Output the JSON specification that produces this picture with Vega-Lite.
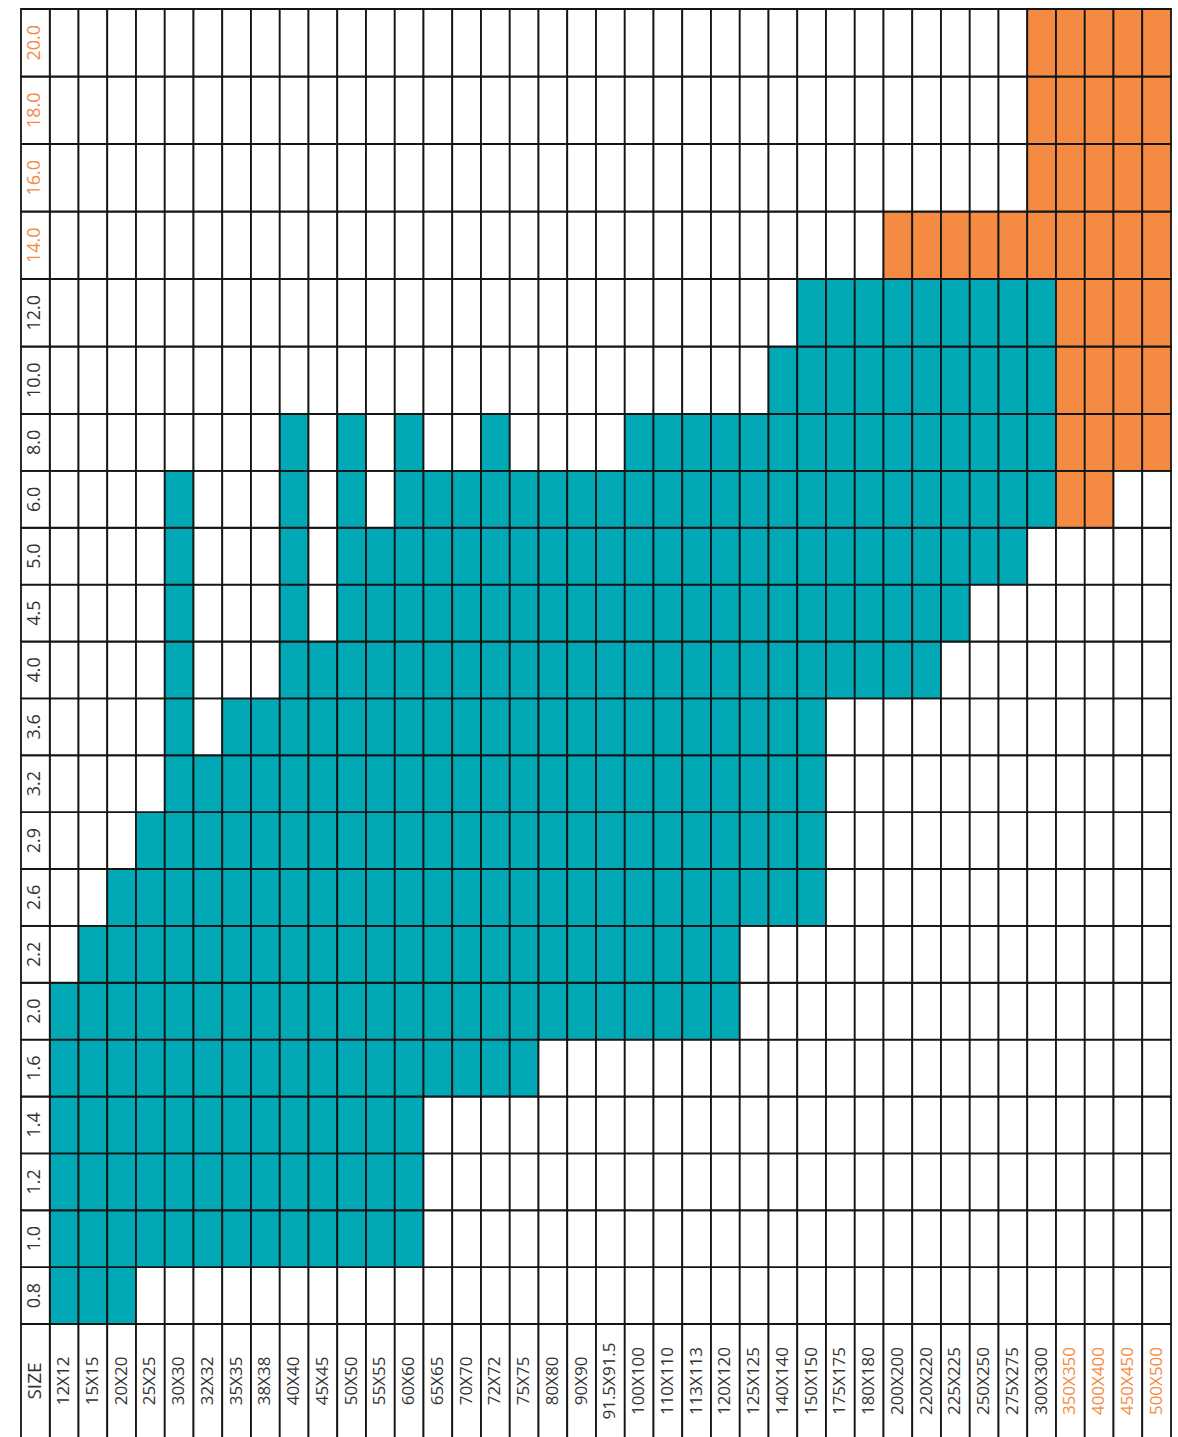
{
"$schema":"https://vega.github.io/schema/vega-lite/v6.json",
"padding":{"left":20,"top":8,"right":8,"bottom":0},
"bounds":"flush",
"spacing":0,
"config":{"view":{"stroke":null},"concat":{"spacing":0},"text":{"font":"Open Sans","fontSize":18}},
"datasets":{
"thick":[{"t":"0.8"},{"t":"1.0"},{"t":"1.2"},{"t":"1.4"},{"t":"1.6"},{"t":"2.0"},{"t":"2.2"},{"t":"2.6"},{"t":"2.9"},{"t":"3.2"},{"t":"3.6"},{"t":"4.0"},{"t":"4.5"},{"t":"5.0"},{"t":"6.0"},{"t":"8.0"},{"t":"10.0"},{"t":"12.0"},{"t":"14.0"},{"t":"16.0"},{"t":"18.0"},{"t":"20.0"}],
"sizes":[{"s":"12X12"},{"s":"15X15"},{"s":"20X20"},{"s":"25X25"},{"s":"30X30"},{"s":"32X32"},{"s":"35X35"},{"s":"38X38"},{"s":"40X40"},{"s":"45X45"},{"s":"50X50"},{"s":"55X55"},{"s":"60X60"},{"s":"65X65"},{"s":"70X70"},{"s":"72X72"},{"s":"75X75"},{"s":"80X80"},{"s":"90X90"},{"s":"91.5X91.5"},{"s":"100X100"},{"s":"110X110"},{"s":"113X113"},{"s":"120X120"},{"s":"125X125"},{"s":"140X140"},{"s":"150X150"},{"s":"175X175"},{"s":"180X180"},{"s":"200X200"},{"s":"220X220"},{"s":"225X225"},{"s":"250X250"},{"s":"275X275"},{"s":"300X300"},{"s":"350X350"},{"s":"400X400"},{"s":"450X450"},{"s":"500X500"}],
"header":[{"h":"SIZE"}],
"cells":[
{"s":"12X12","t":"0.8","c":"S"},{"s":"15X15","t":"0.8","c":"S"},{"s":"20X20","t":"0.8","c":"S"},{"s":"25X25","t":"0.8","c":"N"},{"s":"30X30","t":"0.8","c":"N"},{"s":"32X32","t":"0.8","c":"N"},{"s":"35X35","t":"0.8","c":"N"},{"s":"38X38","t":"0.8","c":"N"},{"s":"40X40","t":"0.8","c":"N"},{"s":"45X45","t":"0.8","c":"N"},{"s":"50X50","t":"0.8","c":"N"},{"s":"55X55","t":"0.8","c":"N"},{"s":"60X60","t":"0.8","c":"N"},{"s":"65X65","t":"0.8","c":"N"},{"s":"70X70","t":"0.8","c":"N"},{"s":"72X72","t":"0.8","c":"N"},{"s":"75X75","t":"0.8","c":"N"},{"s":"80X80","t":"0.8","c":"N"},{"s":"90X90","t":"0.8","c":"N"},{"s":"91.5X91.5","t":"0.8","c":"N"},{"s":"100X100","t":"0.8","c":"N"},{"s":"110X110","t":"0.8","c":"N"},{"s":"113X113","t":"0.8","c":"N"},{"s":"120X120","t":"0.8","c":"N"},{"s":"125X125","t":"0.8","c":"N"},{"s":"140X140","t":"0.8","c":"N"},{"s":"150X150","t":"0.8","c":"N"},{"s":"175X175","t":"0.8","c":"N"},{"s":"180X180","t":"0.8","c":"N"},{"s":"200X200","t":"0.8","c":"N"},{"s":"220X220","t":"0.8","c":"N"},{"s":"225X225","t":"0.8","c":"N"},{"s":"250X250","t":"0.8","c":"N"},{"s":"275X275","t":"0.8","c":"N"},{"s":"300X300","t":"0.8","c":"N"},{"s":"350X350","t":"0.8","c":"N"},{"s":"400X400","t":"0.8","c":"N"},{"s":"450X450","t":"0.8","c":"N"},{"s":"500X500","t":"0.8","c":"N"},
{"s":"12X12","t":"1.0","c":"S"},{"s":"15X15","t":"1.0","c":"S"},{"s":"20X20","t":"1.0","c":"S"},{"s":"25X25","t":"1.0","c":"S"},{"s":"30X30","t":"1.0","c":"S"},{"s":"32X32","t":"1.0","c":"S"},{"s":"35X35","t":"1.0","c":"S"},{"s":"38X38","t":"1.0","c":"S"},{"s":"40X40","t":"1.0","c":"S"},{"s":"45X45","t":"1.0","c":"S"},{"s":"50X50","t":"1.0","c":"S"},{"s":"55X55","t":"1.0","c":"S"},{"s":"60X60","t":"1.0","c":"S"},{"s":"65X65","t":"1.0","c":"N"},{"s":"70X70","t":"1.0","c":"N"},{"s":"72X72","t":"1.0","c":"N"},{"s":"75X75","t":"1.0","c":"N"},{"s":"80X80","t":"1.0","c":"N"},{"s":"90X90","t":"1.0","c":"N"},{"s":"91.5X91.5","t":"1.0","c":"N"},{"s":"100X100","t":"1.0","c":"N"},{"s":"110X110","t":"1.0","c":"N"},{"s":"113X113","t":"1.0","c":"N"},{"s":"120X120","t":"1.0","c":"N"},{"s":"125X125","t":"1.0","c":"N"},{"s":"140X140","t":"1.0","c":"N"},{"s":"150X150","t":"1.0","c":"N"},{"s":"175X175","t":"1.0","c":"N"},{"s":"180X180","t":"1.0","c":"N"},{"s":"200X200","t":"1.0","c":"N"},{"s":"220X220","t":"1.0","c":"N"},{"s":"225X225","t":"1.0","c":"N"},{"s":"250X250","t":"1.0","c":"N"},{"s":"275X275","t":"1.0","c":"N"},{"s":"300X300","t":"1.0","c":"N"},{"s":"350X350","t":"1.0","c":"N"},{"s":"400X400","t":"1.0","c":"N"},{"s":"450X450","t":"1.0","c":"N"},{"s":"500X500","t":"1.0","c":"N"},
{"s":"12X12","t":"1.2","c":"S"},{"s":"15X15","t":"1.2","c":"S"},{"s":"20X20","t":"1.2","c":"S"},{"s":"25X25","t":"1.2","c":"S"},{"s":"30X30","t":"1.2","c":"S"},{"s":"32X32","t":"1.2","c":"S"},{"s":"35X35","t":"1.2","c":"S"},{"s":"38X38","t":"1.2","c":"S"},{"s":"40X40","t":"1.2","c":"S"},{"s":"45X45","t":"1.2","c":"S"},{"s":"50X50","t":"1.2","c":"S"},{"s":"55X55","t":"1.2","c":"S"},{"s":"60X60","t":"1.2","c":"S"},{"s":"65X65","t":"1.2","c":"N"},{"s":"70X70","t":"1.2","c":"N"},{"s":"72X72","t":"1.2","c":"N"},{"s":"75X75","t":"1.2","c":"N"},{"s":"80X80","t":"1.2","c":"N"},{"s":"90X90","t":"1.2","c":"N"},{"s":"91.5X91.5","t":"1.2","c":"N"},{"s":"100X100","t":"1.2","c":"N"},{"s":"110X110","t":"1.2","c":"N"},{"s":"113X113","t":"1.2","c":"N"},{"s":"120X120","t":"1.2","c":"N"},{"s":"125X125","t":"1.2","c":"N"},{"s":"140X140","t":"1.2","c":"N"},{"s":"150X150","t":"1.2","c":"N"},{"s":"175X175","t":"1.2","c":"N"},{"s":"180X180","t":"1.2","c":"N"},{"s":"200X200","t":"1.2","c":"N"},{"s":"220X220","t":"1.2","c":"N"},{"s":"225X225","t":"1.2","c":"N"},{"s":"250X250","t":"1.2","c":"N"},{"s":"275X275","t":"1.2","c":"N"},{"s":"300X300","t":"1.2","c":"N"},{"s":"350X350","t":"1.2","c":"N"},{"s":"400X400","t":"1.2","c":"N"},{"s":"450X450","t":"1.2","c":"N"},{"s":"500X500","t":"1.2","c":"N"},
{"s":"12X12","t":"1.4","c":"S"},{"s":"15X15","t":"1.4","c":"S"},{"s":"20X20","t":"1.4","c":"S"},{"s":"25X25","t":"1.4","c":"S"},{"s":"30X30","t":"1.4","c":"S"},{"s":"32X32","t":"1.4","c":"S"},{"s":"35X35","t":"1.4","c":"S"},{"s":"38X38","t":"1.4","c":"S"},{"s":"40X40","t":"1.4","c":"S"},{"s":"45X45","t":"1.4","c":"S"},{"s":"50X50","t":"1.4","c":"S"},{"s":"55X55","t":"1.4","c":"S"},{"s":"60X60","t":"1.4","c":"S"},{"s":"65X65","t":"1.4","c":"N"},{"s":"70X70","t":"1.4","c":"N"},{"s":"72X72","t":"1.4","c":"N"},{"s":"75X75","t":"1.4","c":"N"},{"s":"80X80","t":"1.4","c":"N"},{"s":"90X90","t":"1.4","c":"N"},{"s":"91.5X91.5","t":"1.4","c":"N"},{"s":"100X100","t":"1.4","c":"N"},{"s":"110X110","t":"1.4","c":"N"},{"s":"113X113","t":"1.4","c":"N"},{"s":"120X120","t":"1.4","c":"N"},{"s":"125X125","t":"1.4","c":"N"},{"s":"140X140","t":"1.4","c":"N"},{"s":"150X150","t":"1.4","c":"N"},{"s":"175X175","t":"1.4","c":"N"},{"s":"180X180","t":"1.4","c":"N"},{"s":"200X200","t":"1.4","c":"N"},{"s":"220X220","t":"1.4","c":"N"},{"s":"225X225","t":"1.4","c":"N"},{"s":"250X250","t":"1.4","c":"N"},{"s":"275X275","t":"1.4","c":"N"},{"s":"300X300","t":"1.4","c":"N"},{"s":"350X350","t":"1.4","c":"N"},{"s":"400X400","t":"1.4","c":"N"},{"s":"450X450","t":"1.4","c":"N"},{"s":"500X500","t":"1.4","c":"N"},
{"s":"12X12","t":"1.6","c":"S"},{"s":"15X15","t":"1.6","c":"S"},{"s":"20X20","t":"1.6","c":"S"},{"s":"25X25","t":"1.6","c":"S"},{"s":"30X30","t":"1.6","c":"S"},{"s":"32X32","t":"1.6","c":"S"},{"s":"35X35","t":"1.6","c":"S"},{"s":"38X38","t":"1.6","c":"S"},{"s":"40X40","t":"1.6","c":"S"},{"s":"45X45","t":"1.6","c":"S"},{"s":"50X50","t":"1.6","c":"S"},{"s":"55X55","t":"1.6","c":"S"},{"s":"60X60","t":"1.6","c":"S"},{"s":"65X65","t":"1.6","c":"S"},{"s":"70X70","t":"1.6","c":"S"},{"s":"72X72","t":"1.6","c":"S"},{"s":"75X75","t":"1.6","c":"S"},{"s":"80X80","t":"1.6","c":"N"},{"s":"90X90","t":"1.6","c":"N"},{"s":"91.5X91.5","t":"1.6","c":"N"},{"s":"100X100","t":"1.6","c":"N"},{"s":"110X110","t":"1.6","c":"N"},{"s":"113X113","t":"1.6","c":"N"},{"s":"120X120","t":"1.6","c":"N"},{"s":"125X125","t":"1.6","c":"N"},{"s":"140X140","t":"1.6","c":"N"},{"s":"150X150","t":"1.6","c":"N"},{"s":"175X175","t":"1.6","c":"N"},{"s":"180X180","t":"1.6","c":"N"},{"s":"200X200","t":"1.6","c":"N"},{"s":"220X220","t":"1.6","c":"N"},{"s":"225X225","t":"1.6","c":"N"},{"s":"250X250","t":"1.6","c":"N"},{"s":"275X275","t":"1.6","c":"N"},{"s":"300X300","t":"1.6","c":"N"},{"s":"350X350","t":"1.6","c":"N"},{"s":"400X400","t":"1.6","c":"N"},{"s":"450X450","t":"1.6","c":"N"},{"s":"500X500","t":"1.6","c":"N"},
{"s":"12X12","t":"2.0","c":"S"},{"s":"15X15","t":"2.0","c":"S"},{"s":"20X20","t":"2.0","c":"S"},{"s":"25X25","t":"2.0","c":"S"},{"s":"30X30","t":"2.0","c":"S"},{"s":"32X32","t":"2.0","c":"S"},{"s":"35X35","t":"2.0","c":"S"},{"s":"38X38","t":"2.0","c":"S"},{"s":"40X40","t":"2.0","c":"S"},{"s":"45X45","t":"2.0","c":"S"},{"s":"50X50","t":"2.0","c":"S"},{"s":"55X55","t":"2.0","c":"S"},{"s":"60X60","t":"2.0","c":"S"},{"s":"65X65","t":"2.0","c":"S"},{"s":"70X70","t":"2.0","c":"S"},{"s":"72X72","t":"2.0","c":"S"},{"s":"75X75","t":"2.0","c":"S"},{"s":"80X80","t":"2.0","c":"S"},{"s":"90X90","t":"2.0","c":"S"},{"s":"91.5X91.5","t":"2.0","c":"S"},{"s":"100X100","t":"2.0","c":"S"},{"s":"110X110","t":"2.0","c":"S"},{"s":"113X113","t":"2.0","c":"S"},{"s":"120X120","t":"2.0","c":"S"},{"s":"125X125","t":"2.0","c":"N"},{"s":"140X140","t":"2.0","c":"N"},{"s":"150X150","t":"2.0","c":"N"},{"s":"175X175","t":"2.0","c":"N"},{"s":"180X180","t":"2.0","c":"N"},{"s":"200X200","t":"2.0","c":"N"},{"s":"220X220","t":"2.0","c":"N"},{"s":"225X225","t":"2.0","c":"N"},{"s":"250X250","t":"2.0","c":"N"},{"s":"275X275","t":"2.0","c":"N"},{"s":"300X300","t":"2.0","c":"N"},{"s":"350X350","t":"2.0","c":"N"},{"s":"400X400","t":"2.0","c":"N"},{"s":"450X450","t":"2.0","c":"N"},{"s":"500X500","t":"2.0","c":"N"},
{"s":"12X12","t":"2.2","c":"N"},{"s":"15X15","t":"2.2","c":"S"},{"s":"20X20","t":"2.2","c":"S"},{"s":"25X25","t":"2.2","c":"S"},{"s":"30X30","t":"2.2","c":"S"},{"s":"32X32","t":"2.2","c":"S"},{"s":"35X35","t":"2.2","c":"S"},{"s":"38X38","t":"2.2","c":"S"},{"s":"40X40","t":"2.2","c":"S"},{"s":"45X45","t":"2.2","c":"S"},{"s":"50X50","t":"2.2","c":"S"},{"s":"55X55","t":"2.2","c":"S"},{"s":"60X60","t":"2.2","c":"S"},{"s":"65X65","t":"2.2","c":"S"},{"s":"70X70","t":"2.2","c":"S"},{"s":"72X72","t":"2.2","c":"S"},{"s":"75X75","t":"2.2","c":"S"},{"s":"80X80","t":"2.2","c":"S"},{"s":"90X90","t":"2.2","c":"S"},{"s":"91.5X91.5","t":"2.2","c":"S"},{"s":"100X100","t":"2.2","c":"S"},{"s":"110X110","t":"2.2","c":"S"},{"s":"113X113","t":"2.2","c":"S"},{"s":"120X120","t":"2.2","c":"S"},{"s":"125X125","t":"2.2","c":"N"},{"s":"140X140","t":"2.2","c":"N"},{"s":"150X150","t":"2.2","c":"N"},{"s":"175X175","t":"2.2","c":"N"},{"s":"180X180","t":"2.2","c":"N"},{"s":"200X200","t":"2.2","c":"N"},{"s":"220X220","t":"2.2","c":"N"},{"s":"225X225","t":"2.2","c":"N"},{"s":"250X250","t":"2.2","c":"N"},{"s":"275X275","t":"2.2","c":"N"},{"s":"300X300","t":"2.2","c":"N"},{"s":"350X350","t":"2.2","c":"N"},{"s":"400X400","t":"2.2","c":"N"},{"s":"450X450","t":"2.2","c":"N"},{"s":"500X500","t":"2.2","c":"N"},
{"s":"12X12","t":"2.6","c":"N"},{"s":"15X15","t":"2.6","c":"N"},{"s":"20X20","t":"2.6","c":"S"},{"s":"25X25","t":"2.6","c":"S"},{"s":"30X30","t":"2.6","c":"S"},{"s":"32X32","t":"2.6","c":"S"},{"s":"35X35","t":"2.6","c":"S"},{"s":"38X38","t":"2.6","c":"S"},{"s":"40X40","t":"2.6","c":"S"},{"s":"45X45","t":"2.6","c":"S"},{"s":"50X50","t":"2.6","c":"S"},{"s":"55X55","t":"2.6","c":"S"},{"s":"60X60","t":"2.6","c":"S"},{"s":"65X65","t":"2.6","c":"S"},{"s":"70X70","t":"2.6","c":"S"},{"s":"72X72","t":"2.6","c":"S"},{"s":"75X75","t":"2.6","c":"S"},{"s":"80X80","t":"2.6","c":"S"},{"s":"90X90","t":"2.6","c":"S"},{"s":"91.5X91.5","t":"2.6","c":"S"},{"s":"100X100","t":"2.6","c":"S"},{"s":"110X110","t":"2.6","c":"S"},{"s":"113X113","t":"2.6","c":"S"},{"s":"120X120","t":"2.6","c":"S"},{"s":"125X125","t":"2.6","c":"S"},{"s":"140X140","t":"2.6","c":"S"},{"s":"150X150","t":"2.6","c":"S"},{"s":"175X175","t":"2.6","c":"N"},{"s":"180X180","t":"2.6","c":"N"},{"s":"200X200","t":"2.6","c":"N"},{"s":"220X220","t":"2.6","c":"N"},{"s":"225X225","t":"2.6","c":"N"},{"s":"250X250","t":"2.6","c":"N"},{"s":"275X275","t":"2.6","c":"N"},{"s":"300X300","t":"2.6","c":"N"},{"s":"350X350","t":"2.6","c":"N"},{"s":"400X400","t":"2.6","c":"N"},{"s":"450X450","t":"2.6","c":"N"},{"s":"500X500","t":"2.6","c":"N"},
{"s":"12X12","t":"2.9","c":"N"},{"s":"15X15","t":"2.9","c":"N"},{"s":"20X20","t":"2.9","c":"N"},{"s":"25X25","t":"2.9","c":"S"},{"s":"30X30","t":"2.9","c":"S"},{"s":"32X32","t":"2.9","c":"S"},{"s":"35X35","t":"2.9","c":"S"},{"s":"38X38","t":"2.9","c":"S"},{"s":"40X40","t":"2.9","c":"S"},{"s":"45X45","t":"2.9","c":"S"},{"s":"50X50","t":"2.9","c":"S"},{"s":"55X55","t":"2.9","c":"S"},{"s":"60X60","t":"2.9","c":"S"},{"s":"65X65","t":"2.9","c":"S"},{"s":"70X70","t":"2.9","c":"S"},{"s":"72X72","t":"2.9","c":"S"},{"s":"75X75","t":"2.9","c":"S"},{"s":"80X80","t":"2.9","c":"S"},{"s":"90X90","t":"2.9","c":"S"},{"s":"91.5X91.5","t":"2.9","c":"S"},{"s":"100X100","t":"2.9","c":"S"},{"s":"110X110","t":"2.9","c":"S"},{"s":"113X113","t":"2.9","c":"S"},{"s":"120X120","t":"2.9","c":"S"},{"s":"125X125","t":"2.9","c":"S"},{"s":"140X140","t":"2.9","c":"S"},{"s":"150X150","t":"2.9","c":"S"},{"s":"175X175","t":"2.9","c":"N"},{"s":"180X180","t":"2.9","c":"N"},{"s":"200X200","t":"2.9","c":"N"},{"s":"220X220","t":"2.9","c":"N"},{"s":"225X225","t":"2.9","c":"N"},{"s":"250X250","t":"2.9","c":"N"},{"s":"275X275","t":"2.9","c":"N"},{"s":"300X300","t":"2.9","c":"N"},{"s":"350X350","t":"2.9","c":"N"},{"s":"400X400","t":"2.9","c":"N"},{"s":"450X450","t":"2.9","c":"N"},{"s":"500X500","t":"2.9","c":"N"},
{"s":"12X12","t":"3.2","c":"N"},{"s":"15X15","t":"3.2","c":"N"},{"s":"20X20","t":"3.2","c":"N"},{"s":"25X25","t":"3.2","c":"N"},{"s":"30X30","t":"3.2","c":"S"},{"s":"32X32","t":"3.2","c":"S"},{"s":"35X35","t":"3.2","c":"S"},{"s":"38X38","t":"3.2","c":"S"},{"s":"40X40","t":"3.2","c":"S"},{"s":"45X45","t":"3.2","c":"S"},{"s":"50X50","t":"3.2","c":"S"},{"s":"55X55","t":"3.2","c":"S"},{"s":"60X60","t":"3.2","c":"S"},{"s":"65X65","t":"3.2","c":"S"},{"s":"70X70","t":"3.2","c":"S"},{"s":"72X72","t":"3.2","c":"S"},{"s":"75X75","t":"3.2","c":"S"},{"s":"80X80","t":"3.2","c":"S"},{"s":"90X90","t":"3.2","c":"S"},{"s":"91.5X91.5","t":"3.2","c":"S"},{"s":"100X100","t":"3.2","c":"S"},{"s":"110X110","t":"3.2","c":"S"},{"s":"113X113","t":"3.2","c":"S"},{"s":"120X120","t":"3.2","c":"S"},{"s":"125X125","t":"3.2","c":"S"},{"s":"140X140","t":"3.2","c":"S"},{"s":"150X150","t":"3.2","c":"S"},{"s":"175X175","t":"3.2","c":"N"},{"s":"180X180","t":"3.2","c":"N"},{"s":"200X200","t":"3.2","c":"N"},{"s":"220X220","t":"3.2","c":"N"},{"s":"225X225","t":"3.2","c":"N"},{"s":"250X250","t":"3.2","c":"N"},{"s":"275X275","t":"3.2","c":"N"},{"s":"300X300","t":"3.2","c":"N"},{"s":"350X350","t":"3.2","c":"N"},{"s":"400X400","t":"3.2","c":"N"},{"s":"450X450","t":"3.2","c":"N"},{"s":"500X500","t":"3.2","c":"N"},
{"s":"12X12","t":"3.6","c":"N"},{"s":"15X15","t":"3.6","c":"N"},{"s":"20X20","t":"3.6","c":"N"},{"s":"25X25","t":"3.6","c":"N"},{"s":"30X30","t":"3.6","c":"S"},{"s":"32X32","t":"3.6","c":"N"},{"s":"35X35","t":"3.6","c":"S"},{"s":"38X38","t":"3.6","c":"S"},{"s":"40X40","t":"3.6","c":"S"},{"s":"45X45","t":"3.6","c":"S"},{"s":"50X50","t":"3.6","c":"S"},{"s":"55X55","t":"3.6","c":"S"},{"s":"60X60","t":"3.6","c":"S"},{"s":"65X65","t":"3.6","c":"S"},{"s":"70X70","t":"3.6","c":"S"},{"s":"72X72","t":"3.6","c":"S"},{"s":"75X75","t":"3.6","c":"S"},{"s":"80X80","t":"3.6","c":"S"},{"s":"90X90","t":"3.6","c":"S"},{"s":"91.5X91.5","t":"3.6","c":"S"},{"s":"100X100","t":"3.6","c":"S"},{"s":"110X110","t":"3.6","c":"S"},{"s":"113X113","t":"3.6","c":"S"},{"s":"120X120","t":"3.6","c":"S"},{"s":"125X125","t":"3.6","c":"S"},{"s":"140X140","t":"3.6","c":"S"},{"s":"150X150","t":"3.6","c":"S"},{"s":"175X175","t":"3.6","c":"N"},{"s":"180X180","t":"3.6","c":"N"},{"s":"200X200","t":"3.6","c":"N"},{"s":"220X220","t":"3.6","c":"N"},{"s":"225X225","t":"3.6","c":"N"},{"s":"250X250","t":"3.6","c":"N"},{"s":"275X275","t":"3.6","c":"N"},{"s":"300X300","t":"3.6","c":"N"},{"s":"350X350","t":"3.6","c":"N"},{"s":"400X400","t":"3.6","c":"N"},{"s":"450X450","t":"3.6","c":"N"},{"s":"500X500","t":"3.6","c":"N"},
{"s":"12X12","t":"4.0","c":"N"},{"s":"15X15","t":"4.0","c":"N"},{"s":"20X20","t":"4.0","c":"N"},{"s":"25X25","t":"4.0","c":"N"},{"s":"30X30","t":"4.0","c":"S"},{"s":"32X32","t":"4.0","c":"N"},{"s":"35X35","t":"4.0","c":"N"},{"s":"38X38","t":"4.0","c":"N"},{"s":"40X40","t":"4.0","c":"S"},{"s":"45X45","t":"4.0","c":"S"},{"s":"50X50","t":"4.0","c":"S"},{"s":"55X55","t":"4.0","c":"S"},{"s":"60X60","t":"4.0","c":"S"},{"s":"65X65","t":"4.0","c":"S"},{"s":"70X70","t":"4.0","c":"S"},{"s":"72X72","t":"4.0","c":"S"},{"s":"75X75","t":"4.0","c":"S"},{"s":"80X80","t":"4.0","c":"S"},{"s":"90X90","t":"4.0","c":"S"},{"s":"91.5X91.5","t":"4.0","c":"S"},{"s":"100X100","t":"4.0","c":"S"},{"s":"110X110","t":"4.0","c":"S"},{"s":"113X113","t":"4.0","c":"S"},{"s":"120X120","t":"4.0","c":"S"},{"s":"125X125","t":"4.0","c":"S"},{"s":"140X140","t":"4.0","c":"S"},{"s":"150X150","t":"4.0","c":"S"},{"s":"175X175","t":"4.0","c":"S"},{"s":"180X180","t":"4.0","c":"S"},{"s":"200X200","t":"4.0","c":"S"},{"s":"220X220","t":"4.0","c":"S"},{"s":"225X225","t":"4.0","c":"N"},{"s":"250X250","t":"4.0","c":"N"},{"s":"275X275","t":"4.0","c":"N"},{"s":"300X300","t":"4.0","c":"N"},{"s":"350X350","t":"4.0","c":"N"},{"s":"400X400","t":"4.0","c":"N"},{"s":"450X450","t":"4.0","c":"N"},{"s":"500X500","t":"4.0","c":"N"},
{"s":"12X12","t":"4.5","c":"N"},{"s":"15X15","t":"4.5","c":"N"},{"s":"20X20","t":"4.5","c":"N"},{"s":"25X25","t":"4.5","c":"N"},{"s":"30X30","t":"4.5","c":"S"},{"s":"32X32","t":"4.5","c":"N"},{"s":"35X35","t":"4.5","c":"N"},{"s":"38X38","t":"4.5","c":"N"},{"s":"40X40","t":"4.5","c":"S"},{"s":"45X45","t":"4.5","c":"N"},{"s":"50X50","t":"4.5","c":"S"},{"s":"55X55","t":"4.5","c":"S"},{"s":"60X60","t":"4.5","c":"S"},{"s":"65X65","t":"4.5","c":"S"},{"s":"70X70","t":"4.5","c":"S"},{"s":"72X72","t":"4.5","c":"S"},{"s":"75X75","t":"4.5","c":"S"},{"s":"80X80","t":"4.5","c":"S"},{"s":"90X90","t":"4.5","c":"S"},{"s":"91.5X91.5","t":"4.5","c":"S"},{"s":"100X100","t":"4.5","c":"S"},{"s":"110X110","t":"4.5","c":"S"},{"s":"113X113","t":"4.5","c":"S"},{"s":"120X120","t":"4.5","c":"S"},{"s":"125X125","t":"4.5","c":"S"},{"s":"140X140","t":"4.5","c":"S"},{"s":"150X150","t":"4.5","c":"S"},{"s":"175X175","t":"4.5","c":"S"},{"s":"180X180","t":"4.5","c":"S"},{"s":"200X200","t":"4.5","c":"S"},{"s":"220X220","t":"4.5","c":"S"},{"s":"225X225","t":"4.5","c":"S"},{"s":"250X250","t":"4.5","c":"N"},{"s":"275X275","t":"4.5","c":"N"},{"s":"300X300","t":"4.5","c":"N"},{"s":"350X350","t":"4.5","c":"N"},{"s":"400X400","t":"4.5","c":"N"},{"s":"450X450","t":"4.5","c":"N"},{"s":"500X500","t":"4.5","c":"N"},
{"s":"12X12","t":"5.0","c":"N"},{"s":"15X15","t":"5.0","c":"N"},{"s":"20X20","t":"5.0","c":"N"},{"s":"25X25","t":"5.0","c":"N"},{"s":"30X30","t":"5.0","c":"S"},{"s":"32X32","t":"5.0","c":"N"},{"s":"35X35","t":"5.0","c":"N"},{"s":"38X38","t":"5.0","c":"N"},{"s":"40X40","t":"5.0","c":"S"},{"s":"45X45","t":"5.0","c":"N"},{"s":"50X50","t":"5.0","c":"S"},{"s":"55X55","t":"5.0","c":"S"},{"s":"60X60","t":"5.0","c":"S"},{"s":"65X65","t":"5.0","c":"S"},{"s":"70X70","t":"5.0","c":"S"},{"s":"72X72","t":"5.0","c":"S"},{"s":"75X75","t":"5.0","c":"S"},{"s":"80X80","t":"5.0","c":"S"},{"s":"90X90","t":"5.0","c":"S"},{"s":"91.5X91.5","t":"5.0","c":"S"},{"s":"100X100","t":"5.0","c":"S"},{"s":"110X110","t":"5.0","c":"S"},{"s":"113X113","t":"5.0","c":"S"},{"s":"120X120","t":"5.0","c":"S"},{"s":"125X125","t":"5.0","c":"S"},{"s":"140X140","t":"5.0","c":"S"},{"s":"150X150","t":"5.0","c":"S"},{"s":"175X175","t":"5.0","c":"S"},{"s":"180X180","t":"5.0","c":"S"},{"s":"200X200","t":"5.0","c":"S"},{"s":"220X220","t":"5.0","c":"S"},{"s":"225X225","t":"5.0","c":"S"},{"s":"250X250","t":"5.0","c":"S"},{"s":"275X275","t":"5.0","c":"S"},{"s":"300X300","t":"5.0","c":"N"},{"s":"350X350","t":"5.0","c":"N"},{"s":"400X400","t":"5.0","c":"N"},{"s":"450X450","t":"5.0","c":"N"},{"s":"500X500","t":"5.0","c":"N"},
{"s":"12X12","t":"6.0","c":"N"},{"s":"15X15","t":"6.0","c":"N"},{"s":"20X20","t":"6.0","c":"N"},{"s":"25X25","t":"6.0","c":"N"},{"s":"30X30","t":"6.0","c":"S"},{"s":"32X32","t":"6.0","c":"N"},{"s":"35X35","t":"6.0","c":"N"},{"s":"38X38","t":"6.0","c":"N"},{"s":"40X40","t":"6.0","c":"S"},{"s":"45X45","t":"6.0","c":"N"},{"s":"50X50","t":"6.0","c":"S"},{"s":"55X55","t":"6.0","c":"N"},{"s":"60X60","t":"6.0","c":"S"},{"s":"65X65","t":"6.0","c":"S"},{"s":"70X70","t":"6.0","c":"S"},{"s":"72X72","t":"6.0","c":"S"},{"s":"75X75","t":"6.0","c":"S"},{"s":"80X80","t":"6.0","c":"S"},{"s":"90X90","t":"6.0","c":"S"},{"s":"91.5X91.5","t":"6.0","c":"S"},{"s":"100X100","t":"6.0","c":"S"},{"s":"110X110","t":"6.0","c":"S"},{"s":"113X113","t":"6.0","c":"S"},{"s":"120X120","t":"6.0","c":"S"},{"s":"125X125","t":"6.0","c":"S"},{"s":"140X140","t":"6.0","c":"S"},{"s":"150X150","t":"6.0","c":"S"},{"s":"175X175","t":"6.0","c":"S"},{"s":"180X180","t":"6.0","c":"S"},{"s":"200X200","t":"6.0","c":"S"},{"s":"220X220","t":"6.0","c":"S"},{"s":"225X225","t":"6.0","c":"S"},{"s":"250X250","t":"6.0","c":"S"},{"s":"275X275","t":"6.0","c":"S"},{"s":"300X300","t":"6.0","c":"S"},{"s":"350X350","t":"6.0","c":"L"},{"s":"400X400","t":"6.0","c":"L"},{"s":"450X450","t":"6.0","c":"N"},{"s":"500X500","t":"6.0","c":"N"},
{"s":"12X12","t":"8.0","c":"N"},{"s":"15X15","t":"8.0","c":"N"},{"s":"20X20","t":"8.0","c":"N"},{"s":"25X25","t":"8.0","c":"N"},{"s":"30X30","t":"8.0","c":"N"},{"s":"32X32","t":"8.0","c":"N"},{"s":"35X35","t":"8.0","c":"N"},{"s":"38X38","t":"8.0","c":"N"},{"s":"40X40","t":"8.0","c":"S"},{"s":"45X45","t":"8.0","c":"N"},{"s":"50X50","t":"8.0","c":"S"},{"s":"55X55","t":"8.0","c":"N"},{"s":"60X60","t":"8.0","c":"S"},{"s":"65X65","t":"8.0","c":"N"},{"s":"70X70","t":"8.0","c":"N"},{"s":"72X72","t":"8.0","c":"S"},{"s":"75X75","t":"8.0","c":"N"},{"s":"80X80","t":"8.0","c":"N"},{"s":"90X90","t":"8.0","c":"N"},{"s":"91.5X91.5","t":"8.0","c":"N"},{"s":"100X100","t":"8.0","c":"S"},{"s":"110X110","t":"8.0","c":"S"},{"s":"113X113","t":"8.0","c":"S"},{"s":"120X120","t":"8.0","c":"S"},{"s":"125X125","t":"8.0","c":"S"},{"s":"140X140","t":"8.0","c":"S"},{"s":"150X150","t":"8.0","c":"S"},{"s":"175X175","t":"8.0","c":"S"},{"s":"180X180","t":"8.0","c":"S"},{"s":"200X200","t":"8.0","c":"S"},{"s":"220X220","t":"8.0","c":"S"},{"s":"225X225","t":"8.0","c":"S"},{"s":"250X250","t":"8.0","c":"S"},{"s":"275X275","t":"8.0","c":"S"},{"s":"300X300","t":"8.0","c":"S"},{"s":"350X350","t":"8.0","c":"L"},{"s":"400X400","t":"8.0","c":"L"},{"s":"450X450","t":"8.0","c":"L"},{"s":"500X500","t":"8.0","c":"L"},
{"s":"12X12","t":"10.0","c":"N"},{"s":"15X15","t":"10.0","c":"N"},{"s":"20X20","t":"10.0","c":"N"},{"s":"25X25","t":"10.0","c":"N"},{"s":"30X30","t":"10.0","c":"N"},{"s":"32X32","t":"10.0","c":"N"},{"s":"35X35","t":"10.0","c":"N"},{"s":"38X38","t":"10.0","c":"N"},{"s":"40X40","t":"10.0","c":"N"},{"s":"45X45","t":"10.0","c":"N"},{"s":"50X50","t":"10.0","c":"N"},{"s":"55X55","t":"10.0","c":"N"},{"s":"60X60","t":"10.0","c":"N"},{"s":"65X65","t":"10.0","c":"N"},{"s":"70X70","t":"10.0","c":"N"},{"s":"72X72","t":"10.0","c":"N"},{"s":"75X75","t":"10.0","c":"N"},{"s":"80X80","t":"10.0","c":"N"},{"s":"90X90","t":"10.0","c":"N"},{"s":"91.5X91.5","t":"10.0","c":"N"},{"s":"100X100","t":"10.0","c":"N"},{"s":"110X110","t":"10.0","c":"N"},{"s":"113X113","t":"10.0","c":"N"},{"s":"120X120","t":"10.0","c":"N"},{"s":"125X125","t":"10.0","c":"N"},{"s":"140X140","t":"10.0","c":"S"},{"s":"150X150","t":"10.0","c":"S"},{"s":"175X175","t":"10.0","c":"S"},{"s":"180X180","t":"10.0","c":"S"},{"s":"200X200","t":"10.0","c":"S"},{"s":"220X220","t":"10.0","c":"S"},{"s":"225X225","t":"10.0","c":"S"},{"s":"250X250","t":"10.0","c":"S"},{"s":"275X275","t":"10.0","c":"S"},{"s":"300X300","t":"10.0","c":"S"},{"s":"350X350","t":"10.0","c":"L"},{"s":"400X400","t":"10.0","c":"L"},{"s":"450X450","t":"10.0","c":"L"},{"s":"500X500","t":"10.0","c":"L"},
{"s":"12X12","t":"12.0","c":"N"},{"s":"15X15","t":"12.0","c":"N"},{"s":"20X20","t":"12.0","c":"N"},{"s":"25X25","t":"12.0","c":"N"},{"s":"30X30","t":"12.0","c":"N"},{"s":"32X32","t":"12.0","c":"N"},{"s":"35X35","t":"12.0","c":"N"},{"s":"38X38","t":"12.0","c":"N"},{"s":"40X40","t":"12.0","c":"N"},{"s":"45X45","t":"12.0","c":"N"},{"s":"50X50","t":"12.0","c":"N"},{"s":"55X55","t":"12.0","c":"N"},{"s":"60X60","t":"12.0","c":"N"},{"s":"65X65","t":"12.0","c":"N"},{"s":"70X70","t":"12.0","c":"N"},{"s":"72X72","t":"12.0","c":"N"},{"s":"75X75","t":"12.0","c":"N"},{"s":"80X80","t":"12.0","c":"N"},{"s":"90X90","t":"12.0","c":"N"},{"s":"91.5X91.5","t":"12.0","c":"N"},{"s":"100X100","t":"12.0","c":"N"},{"s":"110X110","t":"12.0","c":"N"},{"s":"113X113","t":"12.0","c":"N"},{"s":"120X120","t":"12.0","c":"N"},{"s":"125X125","t":"12.0","c":"N"},{"s":"140X140","t":"12.0","c":"N"},{"s":"150X150","t":"12.0","c":"S"},{"s":"175X175","t":"12.0","c":"S"},{"s":"180X180","t":"12.0","c":"S"},{"s":"200X200","t":"12.0","c":"S"},{"s":"220X220","t":"12.0","c":"S"},{"s":"225X225","t":"12.0","c":"S"},{"s":"250X250","t":"12.0","c":"S"},{"s":"275X275","t":"12.0","c":"S"},{"s":"300X300","t":"12.0","c":"S"},{"s":"350X350","t":"12.0","c":"L"},{"s":"400X400","t":"12.0","c":"L"},{"s":"450X450","t":"12.0","c":"L"},{"s":"500X500","t":"12.0","c":"L"},
{"s":"12X12","t":"14.0","c":"N"},{"s":"15X15","t":"14.0","c":"N"},{"s":"20X20","t":"14.0","c":"N"},{"s":"25X25","t":"14.0","c":"N"},{"s":"30X30","t":"14.0","c":"N"},{"s":"32X32","t":"14.0","c":"N"},{"s":"35X35","t":"14.0","c":"N"},{"s":"38X38","t":"14.0","c":"N"},{"s":"40X40","t":"14.0","c":"N"},{"s":"45X45","t":"14.0","c":"N"},{"s":"50X50","t":"14.0","c":"N"},{"s":"55X55","t":"14.0","c":"N"},{"s":"60X60","t":"14.0","c":"N"},{"s":"65X65","t":"14.0","c":"N"},{"s":"70X70","t":"14.0","c":"N"},{"s":"72X72","t":"14.0","c":"N"},{"s":"75X75","t":"14.0","c":"N"},{"s":"80X80","t":"14.0","c":"N"},{"s":"90X90","t":"14.0","c":"N"},{"s":"91.5X91.5","t":"14.0","c":"N"},{"s":"100X100","t":"14.0","c":"N"},{"s":"110X110","t":"14.0","c":"N"},{"s":"113X113","t":"14.0","c":"N"},{"s":"120X120","t":"14.0","c":"N"},{"s":"125X125","t":"14.0","c":"N"},{"s":"140X140","t":"14.0","c":"N"},{"s":"150X150","t":"14.0","c":"N"},{"s":"175X175","t":"14.0","c":"N"},{"s":"180X180","t":"14.0","c":"N"},{"s":"200X200","t":"14.0","c":"L"},{"s":"220X220","t":"14.0","c":"L"},{"s":"225X225","t":"14.0","c":"L"},{"s":"250X250","t":"14.0","c":"L"},{"s":"275X275","t":"14.0","c":"L"},{"s":"300X300","t":"14.0","c":"L"},{"s":"350X350","t":"14.0","c":"L"},{"s":"400X400","t":"14.0","c":"L"},{"s":"450X450","t":"14.0","c":"L"},{"s":"500X500","t":"14.0","c":"L"},
{"s":"12X12","t":"16.0","c":"N"},{"s":"15X15","t":"16.0","c":"N"},{"s":"20X20","t":"16.0","c":"N"},{"s":"25X25","t":"16.0","c":"N"},{"s":"30X30","t":"16.0","c":"N"},{"s":"32X32","t":"16.0","c":"N"},{"s":"35X35","t":"16.0","c":"N"},{"s":"38X38","t":"16.0","c":"N"},{"s":"40X40","t":"16.0","c":"N"},{"s":"45X45","t":"16.0","c":"N"},{"s":"50X50","t":"16.0","c":"N"},{"s":"55X55","t":"16.0","c":"N"},{"s":"60X60","t":"16.0","c":"N"},{"s":"65X65","t":"16.0","c":"N"},{"s":"70X70","t":"16.0","c":"N"},{"s":"72X72","t":"16.0","c":"N"},{"s":"75X75","t":"16.0","c":"N"},{"s":"80X80","t":"16.0","c":"N"},{"s":"90X90","t":"16.0","c":"N"},{"s":"91.5X91.5","t":"16.0","c":"N"},{"s":"100X100","t":"16.0","c":"N"},{"s":"110X110","t":"16.0","c":"N"},{"s":"113X113","t":"16.0","c":"N"},{"s":"120X120","t":"16.0","c":"N"},{"s":"125X125","t":"16.0","c":"N"},{"s":"140X140","t":"16.0","c":"N"},{"s":"150X150","t":"16.0","c":"N"},{"s":"175X175","t":"16.0","c":"N"},{"s":"180X180","t":"16.0","c":"N"},{"s":"200X200","t":"16.0","c":"N"},{"s":"220X220","t":"16.0","c":"N"},{"s":"225X225","t":"16.0","c":"N"},{"s":"250X250","t":"16.0","c":"N"},{"s":"275X275","t":"16.0","c":"N"},{"s":"300X300","t":"16.0","c":"L"},{"s":"350X350","t":"16.0","c":"L"},{"s":"400X400","t":"16.0","c":"L"},{"s":"450X450","t":"16.0","c":"L"},{"s":"500X500","t":"16.0","c":"L"},
{"s":"12X12","t":"18.0","c":"N"},{"s":"15X15","t":"18.0","c":"N"},{"s":"20X20","t":"18.0","c":"N"},{"s":"25X25","t":"18.0","c":"N"},{"s":"30X30","t":"18.0","c":"N"},{"s":"32X32","t":"18.0","c":"N"},{"s":"35X35","t":"18.0","c":"N"},{"s":"38X38","t":"18.0","c":"N"},{"s":"40X40","t":"18.0","c":"N"},{"s":"45X45","t":"18.0","c":"N"},{"s":"50X50","t":"18.0","c":"N"},{"s":"55X55","t":"18.0","c":"N"},{"s":"60X60","t":"18.0","c":"N"},{"s":"65X65","t":"18.0","c":"N"},{"s":"70X70","t":"18.0","c":"N"},{"s":"72X72","t":"18.0","c":"N"},{"s":"75X75","t":"18.0","c":"N"},{"s":"80X80","t":"18.0","c":"N"},{"s":"90X90","t":"18.0","c":"N"},{"s":"91.5X91.5","t":"18.0","c":"N"},{"s":"100X100","t":"18.0","c":"N"},{"s":"110X110","t":"18.0","c":"N"},{"s":"113X113","t":"18.0","c":"N"},{"s":"120X120","t":"18.0","c":"N"},{"s":"125X125","t":"18.0","c":"N"},{"s":"140X140","t":"18.0","c":"N"},{"s":"150X150","t":"18.0","c":"N"},{"s":"175X175","t":"18.0","c":"N"},{"s":"180X180","t":"18.0","c":"N"},{"s":"200X200","t":"18.0","c":"N"},{"s":"220X220","t":"18.0","c":"N"},{"s":"225X225","t":"18.0","c":"N"},{"s":"250X250","t":"18.0","c":"N"},{"s":"275X275","t":"18.0","c":"N"},{"s":"300X300","t":"18.0","c":"L"},{"s":"350X350","t":"18.0","c":"L"},{"s":"400X400","t":"18.0","c":"L"},{"s":"450X450","t":"18.0","c":"L"},{"s":"500X500","t":"18.0","c":"L"},
{"s":"12X12","t":"20.0","c":"N"},{"s":"15X15","t":"20.0","c":"N"},{"s":"20X20","t":"20.0","c":"N"},{"s":"25X25","t":"20.0","c":"N"},{"s":"30X30","t":"20.0","c":"N"},{"s":"32X32","t":"20.0","c":"N"},{"s":"35X35","t":"20.0","c":"N"},{"s":"38X38","t":"20.0","c":"N"},{"s":"40X40","t":"20.0","c":"N"},{"s":"45X45","t":"20.0","c":"N"},{"s":"50X50","t":"20.0","c":"N"},{"s":"55X55","t":"20.0","c":"N"},{"s":"60X60","t":"20.0","c":"N"},{"s":"65X65","t":"20.0","c":"N"},{"s":"70X70","t":"20.0","c":"N"},{"s":"72X72","t":"20.0","c":"N"},{"s":"75X75","t":"20.0","c":"N"},{"s":"80X80","t":"20.0","c":"N"},{"s":"90X90","t":"20.0","c":"N"},{"s":"91.5X91.5","t":"20.0","c":"N"},{"s":"100X100","t":"20.0","c":"N"},{"s":"110X110","t":"20.0","c":"N"},{"s":"113X113","t":"20.0","c":"N"},{"s":"120X120","t":"20.0","c":"N"},{"s":"125X125","t":"20.0","c":"N"},{"s":"140X140","t":"20.0","c":"N"},{"s":"150X150","t":"20.0","c":"N"},{"s":"175X175","t":"20.0","c":"N"},{"s":"180X180","t":"20.0","c":"N"},{"s":"200X200","t":"20.0","c":"N"},{"s":"220X220","t":"20.0","c":"N"},{"s":"225X225","t":"20.0","c":"N"},{"s":"250X250","t":"20.0","c":"N"},{"s":"275X275","t":"20.0","c":"N"},{"s":"300X300","t":"20.0","c":"L"},{"s":"350X350","t":"20.0","c":"L"},{"s":"400X400","t":"20.0","c":"L"},{"s":"450X450","t":"20.0","c":"L"},{"s":"500X500","t":"20.0","c":"L"}
]
},
"vconcat":[
{
"width":1150,"height":405,
"layer":[
{"data":{"name":"cells"},"transform":[{"filter":{"field":"t","oneOf":["10.0","12.0","14.0","16.0","18.0","20.0"]}}],
"mark":{"type":"rect","stroke":"#151515","strokeWidth":1.8},
"encoding":{
"x":{"field":"s","type":"nominal","axis":null,"scale":{"domain":["SIZE","12X12","15X15","20X20","25X25","30X30","32X32","35X35","38X38","40X40","45X45","50X50","55X55","60X60","65X65","70X70","72X72","75X75","80X80","90X90","91.5X91.5","100X100","110X110","113X113","120X120","125X125","140X140","150X150","175X175","180X180","200X200","220X220","225X225","250X250","275X275","300X300","350X350","400X400","450X450","500X500"],"paddingInner":0,"paddingOuter":0}},
"y":{"field":"t","type":"nominal","axis":null,"scale":{"domain":["20.0","18.0","16.0","14.0","12.0","10.0"],"paddingInner":0,"paddingOuter":0}},
"fill":{"field":"c","type":"nominal","legend":null,"scale":{"domain":["S","L","N"],"range":["#00A9B5","#F58A42","#FFFFFF"]}}}},
{"data":{"name":"thick"},"transform":[{"filter":{"field":"t","oneOf":["10.0","12.0","14.0","16.0","18.0","20.0"]}}],
"mark":{"type":"rect","fill":"#FFFFFF","stroke":"#151515","strokeWidth":1.8},
"encoding":{"x":{"datum":"SIZE","type":"nominal"},"y":{"field":"t","type":"nominal"}}},
{"data":{"name":"thick"},"transform":[{"filter":{"field":"t","oneOf":["10.0","12.0","14.0","16.0","18.0","20.0"]}}],
"mark":{"type":"text","angle":270,"align":"center","baseline":"middle","font":"Open Sans","fontSize":18},
"encoding":{"x":{"datum":"SIZE","type":"nominal"},"y":{"field":"t","type":"nominal"},"text":{"field":"t"},
"color":{"condition":{"test":{"field":"t","oneOf":["14.0","16.0","18.0","20.0"]},"value":"#F58A42"},"value":"#333333"}}}
]
},
{
"width":1150,"height":910,
"layer":[
{"data":{"name":"cells"},"transform":[{"filter":{"field":"t","oneOf":["8.0","6.0","5.0","4.5","4.0","3.6","3.2","2.9","2.6","2.2","2.0","1.6","1.4","1.2","1.0","0.8"]}}],
"mark":{"type":"rect","stroke":"#151515","strokeWidth":1.8},
"encoding":{
"x":{"field":"s","type":"nominal","axis":null,"scale":{"domain":["SIZE","12X12","15X15","20X20","25X25","30X30","32X32","35X35","38X38","40X40","45X45","50X50","55X55","60X60","65X65","70X70","72X72","75X75","80X80","90X90","91.5X91.5","100X100","110X110","113X113","120X120","125X125","140X140","150X150","175X175","180X180","200X200","220X220","225X225","250X250","275X275","300X300","350X350","400X400","450X450","500X500"],"paddingInner":0,"paddingOuter":0}},
"y":{"field":"t","type":"nominal","axis":null,"scale":{"domain":["8.0","6.0","5.0","4.5","4.0","3.6","3.2","2.9","2.6","2.2","2.0","1.6","1.4","1.2","1.0","0.8"],"paddingInner":0,"paddingOuter":0}},
"fill":{"field":"c","type":"nominal","legend":null,"scale":{"domain":["S","L","N"],"range":["#00A9B5","#F58A42","#FFFFFF"]}}}},
{"data":{"name":"thick"},"transform":[{"filter":{"field":"t","oneOf":["8.0","6.0","5.0","4.5","4.0","3.6","3.2","2.9","2.6","2.2","2.0","1.6","1.4","1.2","1.0","0.8"]}}],
"mark":{"type":"rect","fill":"#FFFFFF","stroke":"#151515","strokeWidth":1.8},
"encoding":{"x":{"datum":"SIZE","type":"nominal"},"y":{"field":"t","type":"nominal"}}},
{"data":{"name":"thick"},"transform":[{"filter":{"field":"t","oneOf":["8.0","6.0","5.0","4.5","4.0","3.6","3.2","2.9","2.6","2.2","2.0","1.6","1.4","1.2","1.0","0.8"]}}],
"mark":{"type":"text","angle":270,"align":"center","baseline":"middle","font":"Open Sans","fontSize":18,"color":"#333333"},
"encoding":{"x":{"datum":"SIZE","type":"nominal"},"y":{"field":"t","type":"nominal"},"text":{"field":"t"}}}
]
},
{
"width":1150,"height":114,
"layer":[
{"data":{"name":"sizes"},
"mark":{"type":"rect","fill":"#FFFFFF","stroke":"#151515","strokeWidth":1.8},
"encoding":{"x":{"field":"s","type":"nominal","axis":null,"scale":{"domain":["SIZE","12X12","15X15","20X20","25X25","30X30","32X32","35X35","38X38","40X40","45X45","50X50","55X55","60X60","65X65","70X70","72X72","75X75","80X80","90X90","91.5X91.5","100X100","110X110","113X113","120X120","125X125","140X140","150X150","175X175","180X180","200X200","220X220","225X225","250X250","275X275","300X300","350X350","400X400","450X450","500X500"],"paddingInner":0,"paddingOuter":0}}}},
{"data":{"name":"sizes"},
"mark":{"type":"text","angle":270,"align":"center","baseline":"middle","font":"Open Sans","fontSize":17},
"encoding":{"x":{"field":"s","type":"nominal"},"text":{"field":"s"},
"color":{"condition":{"test":{"field":"s","oneOf":["350X350","400X400","450X450","500X500"]},"value":"#F58A42"},"value":"#333333"}}},
{"data":{"name":"header"},
"mark":{"type":"rect","fill":"#FFFFFF","stroke":"#151515","strokeWidth":1.8},
"encoding":{"x":{"field":"h","type":"nominal"}}},
{"data":{"name":"header"},
"mark":{"type":"text","angle":270,"align":"center","baseline":"middle","font":"Open Sans","fontSize":19,"color":"#333333"},
"encoding":{"x":{"field":"h","type":"nominal"},"text":{"field":"h"}}}
]
}
]
}
